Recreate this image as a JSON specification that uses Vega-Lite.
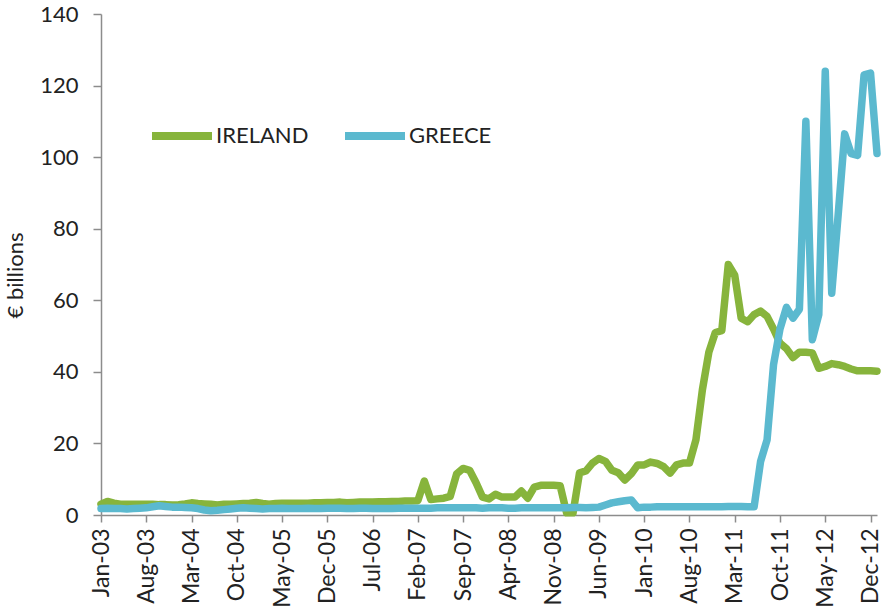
{
  "$schema": "https://vega.github.io/schema/vega-lite/v6.json",
  "width": 776,
  "height": 501,
  "autosize": "none",
  "padding": {"left": 101, "top": 14, "right": 5, "bottom": 99},
  "background": "white",
  "config": {"view": {"stroke": null}, "font": "Lato"},
  "data": {"values": [
    {"m":"Jan-03","IRELAND":3.0,"GREECE":1.8},{"m":"Feb-03","IRELAND":3.8,"GREECE":1.9},{"m":"Mar-03","IRELAND":3.3,"GREECE":1.8},{"m":"Apr-03","IRELAND":3.0,"GREECE":1.8},{"m":"May-03","IRELAND":3.0,"GREECE":1.7},{"m":"Jun-03","IRELAND":3.0,"GREECE":1.8},{"m":"Jul-03","IRELAND":3.0,"GREECE":1.9},{"m":"Aug-03","IRELAND":3.0,"GREECE":2.0},{"m":"Sep-03","IRELAND":3.0,"GREECE":2.3},{"m":"Oct-03","IRELAND":2.9,"GREECE":2.6},{"m":"Nov-03","IRELAND":2.9,"GREECE":2.4},{"m":"Dec-03","IRELAND":2.8,"GREECE":2.2},
    {"m":"Jan-04","IRELAND":2.9,"GREECE":2.2},{"m":"Feb-04","IRELAND":3.1,"GREECE":2.1},{"m":"Mar-04","IRELAND":3.4,"GREECE":2.0},{"m":"Apr-04","IRELAND":3.2,"GREECE":1.8},{"m":"May-04","IRELAND":3.1,"GREECE":1.4},{"m":"Jun-04","IRELAND":3.0,"GREECE":1.2},{"m":"Jul-04","IRELAND":2.8,"GREECE":1.3},{"m":"Aug-04","IRELAND":3.0,"GREECE":1.5},{"m":"Sep-04","IRELAND":3.0,"GREECE":1.7},{"m":"Oct-04","IRELAND":3.1,"GREECE":1.9},{"m":"Nov-04","IRELAND":3.2,"GREECE":2.0},{"m":"Dec-04","IRELAND":3.3,"GREECE":1.9},
    {"m":"Jan-05","IRELAND":3.5,"GREECE":1.8},{"m":"Feb-05","IRELAND":3.2,"GREECE":1.7},{"m":"Mar-05","IRELAND":3.0,"GREECE":1.8},{"m":"Apr-05","IRELAND":3.2,"GREECE":1.8},{"m":"May-05","IRELAND":3.3,"GREECE":1.9},{"m":"Jun-05","IRELAND":3.3,"GREECE":1.8},{"m":"Jul-05","IRELAND":3.3,"GREECE":1.8},{"m":"Aug-05","IRELAND":3.3,"GREECE":1.8},{"m":"Sep-05","IRELAND":3.3,"GREECE":1.9},{"m":"Oct-05","IRELAND":3.4,"GREECE":1.8},{"m":"Nov-05","IRELAND":3.4,"GREECE":1.8},{"m":"Dec-05","IRELAND":3.5,"GREECE":1.9},
    {"m":"Jan-06","IRELAND":3.5,"GREECE":1.9},{"m":"Feb-06","IRELAND":3.6,"GREECE":1.9},{"m":"Mar-06","IRELAND":3.4,"GREECE":1.8},{"m":"Apr-06","IRELAND":3.5,"GREECE":1.8},{"m":"May-06","IRELAND":3.6,"GREECE":1.9},{"m":"Jun-06","IRELAND":3.6,"GREECE":1.9},{"m":"Jul-06","IRELAND":3.6,"GREECE":1.8},{"m":"Aug-06","IRELAND":3.7,"GREECE":1.8},{"m":"Sep-06","IRELAND":3.7,"GREECE":1.8},{"m":"Oct-06","IRELAND":3.8,"GREECE":1.8},{"m":"Nov-06","IRELAND":3.8,"GREECE":1.9},{"m":"Dec-06","IRELAND":3.9,"GREECE":1.9},
    {"m":"Jan-07","IRELAND":3.9,"GREECE":1.9},{"m":"Feb-07","IRELAND":4.0,"GREECE":1.9},{"m":"Mar-07","IRELAND":9.5,"GREECE":1.9},{"m":"Apr-07","IRELAND":4.3,"GREECE":1.9},{"m":"May-07","IRELAND":4.5,"GREECE":2.0},{"m":"Jun-07","IRELAND":4.7,"GREECE":2.0},{"m":"Jul-07","IRELAND":5.2,"GREECE":2.0},{"m":"Aug-07","IRELAND":11.5,"GREECE":2.0},{"m":"Sep-07","IRELAND":13.0,"GREECE":2.0},{"m":"Oct-07","IRELAND":12.5,"GREECE":2.0},{"m":"Nov-07","IRELAND":9.0,"GREECE":2.0},{"m":"Dec-07","IRELAND":5.0,"GREECE":1.9},
    {"m":"Jan-08","IRELAND":4.5,"GREECE":2.0},{"m":"Feb-08","IRELAND":5.8,"GREECE":2.0},{"m":"Mar-08","IRELAND":5.0,"GREECE":2.0},{"m":"Apr-08","IRELAND":5.0,"GREECE":1.9},{"m":"May-08","IRELAND":5.0,"GREECE":1.9},{"m":"Jun-08","IRELAND":6.7,"GREECE":2.0},{"m":"Jul-08","IRELAND":4.7,"GREECE":2.0},{"m":"Aug-08","IRELAND":7.8,"GREECE":2.0},{"m":"Sep-08","IRELAND":8.3,"GREECE":2.0},{"m":"Oct-08","IRELAND":8.3,"GREECE":2.0},{"m":"Nov-08","IRELAND":8.3,"GREECE":2.0},{"m":"Dec-08","IRELAND":8.2,"GREECE":2.0},
    {"m":"Jan-09","IRELAND":0.6,"GREECE":2.0},{"m":"Feb-09","IRELAND":0.6,"GREECE":2.1},{"m":"Mar-09","IRELAND":11.8,"GREECE":2.1},{"m":"Apr-09","IRELAND":12.3,"GREECE":2.0},{"m":"May-09","IRELAND":14.5,"GREECE":2.1},{"m":"Jun-09","IRELAND":15.8,"GREECE":2.2},{"m":"Jul-09","IRELAND":15.0,"GREECE":2.8},{"m":"Aug-09","IRELAND":12.5,"GREECE":3.4},{"m":"Sep-09","IRELAND":11.8,"GREECE":3.7},{"m":"Oct-09","IRELAND":9.8,"GREECE":4.0},{"m":"Nov-09","IRELAND":11.5,"GREECE":4.2},{"m":"Dec-09","IRELAND":14.0,"GREECE":2.0},
    {"m":"Jan-10","IRELAND":14.0,"GREECE":2.2},{"m":"Feb-10","IRELAND":14.8,"GREECE":2.2},{"m":"Mar-10","IRELAND":14.4,"GREECE":2.3},{"m":"Apr-10","IRELAND":13.5,"GREECE":2.3},{"m":"May-10","IRELAND":11.7,"GREECE":2.3},{"m":"Jun-10","IRELAND":14.0,"GREECE":2.3},{"m":"Jul-10","IRELAND":14.5,"GREECE":2.3},{"m":"Aug-10","IRELAND":14.5,"GREECE":2.3},{"m":"Sep-10","IRELAND":21.0,"GREECE":2.3},{"m":"Oct-10","IRELAND":35.0,"GREECE":2.3},{"m":"Nov-10","IRELAND":45.5,"GREECE":2.3},{"m":"Dec-10","IRELAND":51.0,"GREECE":2.3},
    {"m":"Jan-11","IRELAND":51.5,"GREECE":2.3},{"m":"Feb-11","IRELAND":70.0,"GREECE":2.4},{"m":"Mar-11","IRELAND":67.0,"GREECE":2.4},{"m":"Apr-11","IRELAND":55.0,"GREECE":2.4},{"m":"May-11","IRELAND":54.0,"GREECE":2.3},{"m":"Jun-11","IRELAND":56.0,"GREECE":2.3},{"m":"Jul-11","IRELAND":57.0,"GREECE":15.0},{"m":"Aug-11","IRELAND":55.5,"GREECE":21.0},{"m":"Sep-11","IRELAND":52.0,"GREECE":42.0},{"m":"Oct-11","IRELAND":48.0,"GREECE":52.0},{"m":"Nov-11","IRELAND":46.5,"GREECE":58.0},{"m":"Dec-11","IRELAND":44.0,"GREECE":55.0},
    {"m":"Jan-12","IRELAND":45.5,"GREECE":57.5},{"m":"Feb-12","IRELAND":45.5,"GREECE":110.0},{"m":"Mar-12","IRELAND":45.3,"GREECE":49.0},{"m":"Apr-12","IRELAND":41.0,"GREECE":56.0},{"m":"May-12","IRELAND":41.5,"GREECE":124.0},{"m":"Jun-12","IRELAND":42.3,"GREECE":62.0},{"m":"Jul-12","IRELAND":42.0,"GREECE":84.0},{"m":"Aug-12","IRELAND":41.5,"GREECE":106.5},{"m":"Sep-12","IRELAND":40.8,"GREECE":101.0},{"m":"Oct-12","IRELAND":40.3,"GREECE":100.5},{"m":"Nov-12","IRELAND":40.3,"GREECE":123.0},{"m":"Dec-12","IRELAND":40.3,"GREECE":123.5},
    {"m":"Jan-13","IRELAND":40.2,"GREECE":101.0}
  ]},
  "transform": [{"fold": ["IRELAND", "GREECE"], "as": ["country", "value"]}],
  "mark": {"type": "line", "strokeWidth": 7.5, "strokeCap": "round", "strokeJoin": "round"},
  "encoding": {
    "x": {
      "field": "m", "type": "ordinal", "sort": null,
      "scale": {"type": "point", "padding": 0},
      "axis": {
        "title": null,
        "values": ["Jan-03","Aug-03","Mar-04","Oct-04","May-05","Dec-05","Jul-06","Feb-07","Sep-07","Apr-08","Nov-08","Jun-09","Jan-10","Aug-10","Mar-11","Oct-11","May-12","Dec-12"],
        "labelAngle": -90, "labelFont": "Lato", "labelFontSize": 23, "labelColor": "#222222",
        "labelPadding": 6, "tickSize": 7, "tickColor": "#8c8c8c", "tickWidth": 1.5,
        "domainColor": "#8c8c8c", "domainWidth": 1.5, "grid": false, "labelOverlap": false
      }
    },
    "y": {
      "field": "value", "type": "quantitative",
      "scale": {"domain": [0, 140], "nice": false},
      "axis": {
        "title": "€ billions", "titleFont": "Lato", "titleFontSize": 22, "titleFontWeight": "normal", "titleColor": "#222222",
        "titleAngle": -90, "titleBaseline": "middle", "titleAlign": "center", "titleX": -86, "titleY": 261,
        "values": [0,20,40,60,80,100,120,140],
        "labelFont": "Lato", "labelFontSize": 22, "labelColor": "#222222", "labelPadding": 15,
        "tickSize": 8, "tickColor": "#8c8c8c", "tickWidth": 1.5,
        "domainColor": "#8c8c8c", "domainWidth": 1.5, "grid": false
      }
    },
    "color": {
      "field": "country", "type": "nominal",
      "scale": {"domain": ["IRELAND", "GREECE"], "range": ["#87B43C", "#5BB9CF"]},
      "legend": {
        "title": null, "orient": "none", "direction": "horizontal", "legendX": 47, "legendY": 88,
        "symbolType": "stroke", "symbolSize": 3600, "symbolStrokeWidth": 8,
        "labelFont": "Lato", "labelFontSize": 22, "labelFontWeight": "normal", "labelColor": "#222222", "labelOffset": 0,
        "columnPadding": 20, "padding": 0
      }
    }
  }
}
